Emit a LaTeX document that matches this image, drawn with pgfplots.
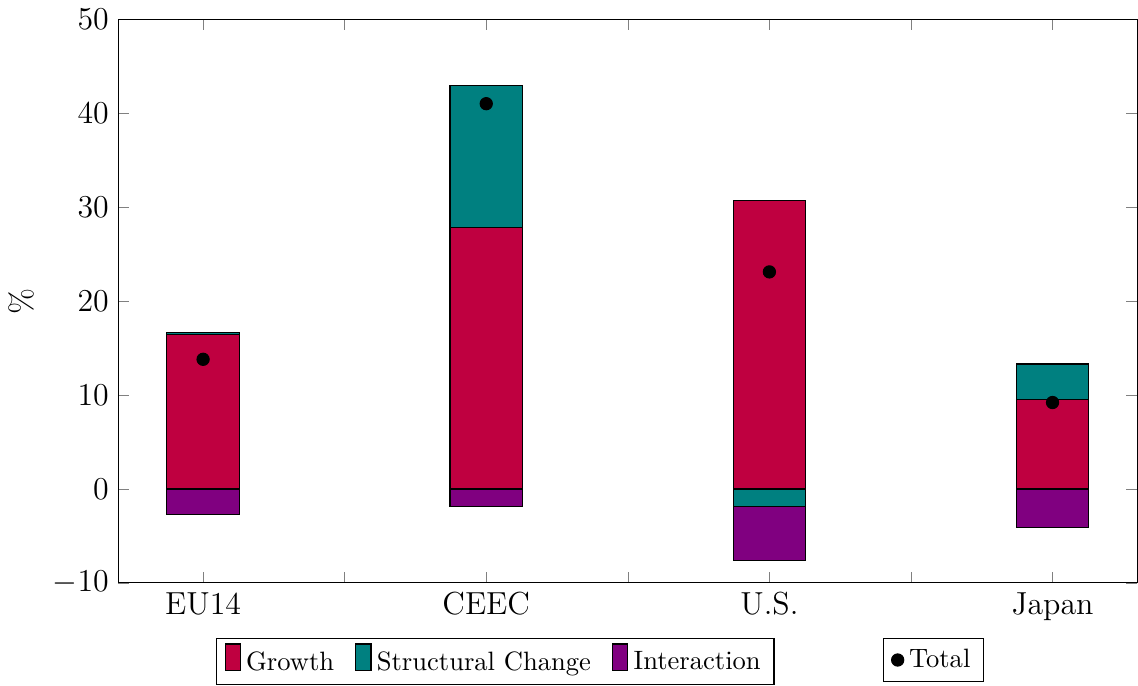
\documentclass[border=0pt]{standalone}
\usepackage{pgfplots}
\pgfplotsset{compat=1.18}
\begin{document}
\begin{tikzpicture}
\pgfplotsset{
  common/.style={width=383.8pt, height=212.3pt, scale only axis,
    xmin=-0.3, xmax=3.3, ymin=-10, ymax=50},
  barlegend/.style={legend image code/.code={\draw[##1] (0cm,-0.1cm) rectangle (0.2cm,0.25cm);}},
}
\begin{axis}[common,
  ybar stacked, bar width=0.256,
  xtick={0,1,2,3}, xticklabels={EU14,CEEC,U.S.,Japan},
  minor xtick={0.5,1.5,2.5},
  major tick length=0.15cm, minor tick length=0.15cm,
  ytick={-10,0,10,20,30,40,50},
  tick label style={font=\large},
  ylabel={\%}, ylabel style={font=\large},
  legend style={at={(0.370,-0.097)}, anchor=north, legend columns=-1,
    /tikz/every even column/.append style={column sep=6pt}},
]
\addplot[barlegend, fill=purple, draw=black] coordinates {(0,16.4) (1,27.8) (2,30.7) (3,9.5)};
\addlegendentry{Growth}
\addplot[barlegend, fill=teal, draw=black] coordinates {(0,0.25) (1,15.1) (2,-1.9) (3,3.8)};
\addlegendentry{Structural Change}
\addplot[barlegend, fill=violet, draw=black] coordinates {(0,-2.7) (1,-1.9) (2,-5.7) (3,-4.1)};
\addlegendentry{Interaction}
\end{axis}
\begin{axis}[common, hide axis,
  legend style={at={(0.800,-0.097)}, anchor=north}]
\addplot[only marks, mark=*, mark size=2.3pt, black] coordinates {(0,13.8) (1,41.0) (2,23.1) (3,9.2)};
\addlegendentry{Total}
\end{axis}
\end{tikzpicture}
\end{document}
